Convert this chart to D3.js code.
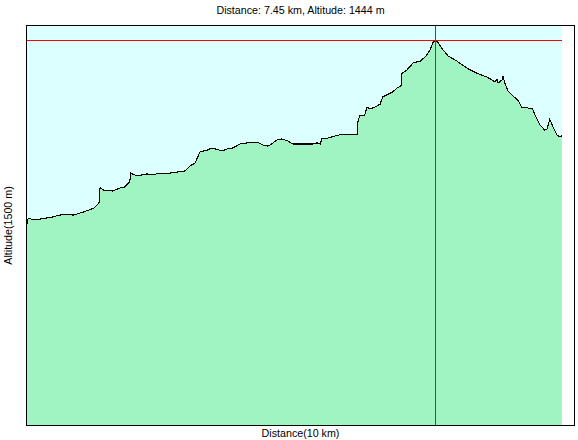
<!DOCTYPE html>
<html lang="en">
    <head>
        <meta charset="utf-8">
        <title>Altitude profile</title>
        <script type="text/javascript" src="https://cdnjs.cloudflare.com/ajax/libs/d3/7.8.5/d3.min.js"></script>
        <style>
            body { margin: 0; background: #fff; }
            text { font-family: "Liberation Sans", Arial, sans-serif; font-size: 10.7px; fill: #000; }
        </style>
    </head>
    <body>
        <script type="text/javascript">
// profile samples
var distKm = [0.00, 0.02, 0.04, 0.13, 0.26, 0.49, 0.56, 0.71, 0.86, 1.04, 1.20, 1.24, 1.33, 1.35, 1.40,
    1.58, 1.71, 1.80, 1.89, 1.91, 2.02, 2.20, 2.30, 2.44, 2.62, 2.90, 2.99, 3.08, 3.17, 3.30,
    3.39, 3.57, 3.66, 3.77, 3.90, 4.12, 4.21, 4.32, 4.41, 4.50, 4.57, 4.66, 4.77, 4.86, 4.95,
    5.23, 5.30, 5.36, 5.39, 5.50, 5.63, 5.77, 6.03, 6.05, 6.08, 6.17, 6.21, 6.27, 6.36, 6.45,
    6.50, 6.67, 6.76, 6.83, 6.85, 6.94, 7.05, 7.18, 7.27, 7.36, 7.41, 7.45, 7.50, 7.60, 7.69,
    7.85, 8.03, 8.21, 8.40, 8.49, 8.54, 8.58, 8.60, 8.67, 8.69, 8.72, 8.78, 8.87, 8.96, 9.03,
    9.13, 9.23, 9.27, 9.36, 9.45, 9.49, 9.54, 9.60, 9.67, 9.73, 9.76];
var altM = [759, 759, 778, 771, 774, 782, 786, 793, 789, 800, 812, 815, 834, 894, 883,
    879, 890, 894, 913, 946, 935, 943, 939, 946, 946, 954, 973, 984, 1025, 1032,
    1040, 1029, 1036, 1040, 1055, 1062, 1062, 1051, 1047, 1059, 1070, 1074, 1066, 1055, 1055,
    1055, 1059, 1055, 1074, 1077, 1085, 1092, 1092, 1145, 1160, 1163, 1193, 1186, 1193, 1204,
    1231, 1249, 1264, 1272, 1320, 1332, 1358, 1365, 1380, 1406, 1433, 1444, 1436, 1406, 1384,
    1365, 1339, 1320, 1305, 1294, 1287, 1298, 1283, 1294, 1309, 1283, 1253, 1234, 1219, 1193,
    1190, 1186, 1163, 1126, 1107, 1111, 1148, 1118, 1089, 1081, 1085];

var xMaxKm = 10;      // Distance(10 km)
var yMaxM = 1500;     // Altitude(1500 m)
var markKm = 7.45;
var markM = 1444;

var w = 578, h = 440;
var padL = 26, padT = 25, padR = 575, padB = 426;

var svg = d3.select("body")
    .append("svg")
    .attr("width", w)
    .attr("height", h);

var x = d3.scaleLinear().domain([0, xMaxKm]).range([padL, padR]);
var y = d3.scaleLinear().domain([0, yMaxM]).range([padB, padT]);

var pts = distKm.map(function(d, i) { return [d, altM[i]]; });
var endKm = distKm[distKm.length - 1];

// sky behind the profile
svg.append("rect")
    .attr("x", x(0))
    .attr("y", padT)
    .attr("width", x(endKm) - x(0))
    .attr("height", padB - padT)
    .attr("fill", "#dcffff");

var area = d3.area()
    .x(function(d) { return x(d[0]); })
    .y0(y(0))
    .y1(function(d) { return y(d[1]); });

svg.append("path")
    .datum(pts)
    .attr("d", area)
    .attr("fill", "#9ff4c1");

var line = d3.line()
    .x(function(d) { return x(d[0]); })
    .y(function(d) { return y(d[1]); });

svg.append("path")
    .datum(pts)
    .attr("d", line)
    .attr("fill", "none")
    .attr("stroke", "#000")
    .attr("stroke-width", 1.1)
    .attr("shape-rendering", "crispEdges");

// cursor cross
svg.append("line")
    .attr("x1", x(0)).attr("x2", x(endKm))
    .attr("y1", Math.round(y(markM)) + 0.5).attr("y2", Math.round(y(markM)) + 0.5)
    .attr("stroke", "#ff0000")
    .attr("stroke-width", 1)
    .attr("shape-rendering", "crispEdges");

svg.append("line")
    .attr("x1", Math.round(x(markKm)) + 0.5).attr("x2", Math.round(x(markKm)) + 0.5)
    .attr("y1", padT).attr("y2", padB)
    .attr("stroke", "#ff0000")
    .attr("stroke-width", 1)
    .attr("shape-rendering", "crispEdges");

// frame
svg.append("rect")
    .attr("x", padL + 0.5)
    .attr("y", padT + 0.5)
    .attr("width", padR - padL - 1)
    .attr("height", padB - padT - 1)
    .attr("fill", "none")
    .attr("stroke", "#000")
    .attr("stroke-width", 1)
    .attr("shape-rendering", "crispEdges");

svg.append("text")
    .attr("x", (padL + padR) / 2)
    .attr("y", 14)
    .attr("text-anchor", "middle")
    .text("Distance: " + markKm + " km, Altitude: " + markM + " m");

svg.append("text")
    .attr("x", (padL + padR) / 2)
    .attr("y", 437)
    .attr("text-anchor", "middle")
    .text("Distance(" + xMaxKm + " km)");

svg.append("text")
    .attr("transform", "translate(12," + ((padT + padB) / 2) + ") rotate(-90)")
    .attr("text-anchor", "middle")
    .text("Altitude(" + yMaxM + " m)");
        </script>
    </body>
</html>
